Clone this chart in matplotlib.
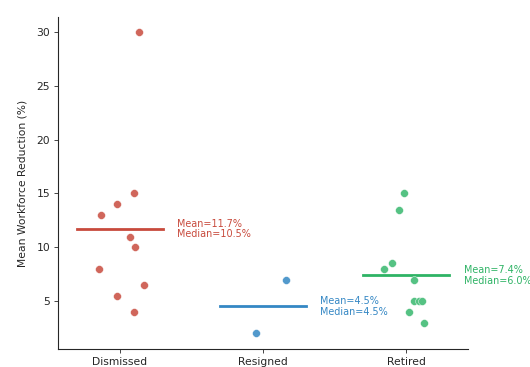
import matplotlib
matplotlib.use("Agg")
import matplotlib.pyplot as plt
import numpy as np

# Reduction (%) per departure type
categories = ["Dismissed", "Resigned", "Retired"]
dismissed = [30, 15, 14, 13, 11, 10, 8, 6.5, 5.5, 4]
resigned = [7, 2]
retired = [15, 13.5, 8.5, 8, 7, 5, 5, 5, 4, 3]

# horizontal jitter for the strip points
dismissed_jitter = [0.13, 0.10, -0.02, -0.13, 0.07, 0.105, -0.145, 0.17, -0.02, 0.10]
resigned_jitter = [0.16, -0.05]
retired_jitter = [-0.02, -0.05, -0.10, -0.16, 0.05, 0.05, 0.09, 0.11, 0.02, 0.12]

yticks = [5, 10, 15, 20, 25, 30]

line_colors = ["#c84a3c", "#3487c4", "#2eb365"]
point_colors = ["#d0665b", "#5299cc", "#55c283"]

groups = [dismissed, resigned, retired]
jitters = [dismissed_jitter, resigned_jitter, retired_jitter]

fig = plt.figure(figsize=(5.30, 3.67), dpi=100)
ax = fig.add_axes([58 / 530, 1 - 349 / 367, 410 / 530, 332 / 367])

fs = 7.75
for i, (vals, jit) in enumerate(zip(groups, jitters)):
    vals = np.asarray(vals, dtype=float)
    x = i + np.asarray(jit)
    ax.scatter(x, vals, s=32, color=point_colors[i], edgecolor="white",
               linewidth=0.3, zorder=3)
    mean = vals.mean()
    median = np.median(vals)
    ax.plot([i - 0.3, i + 0.3], [mean, mean], color=line_colors[i], lw=2, zorder=2)
    ax.text(i + 0.4, mean, f"Mean={mean:.1f}%\nMedian={median:.1f}%",
            color=line_colors[i], fontsize=6.9, va="center", ha="left",
            linespacing=1.1)

ax.set_xticks(range(len(categories)))
ax.set_xticklabels(categories)
ax.set_yticks(yticks)
ax.set_xlim(-0.433, 2.43)
ax.set_ylim(0.55, 31.4)
ax.set_ylabel("Mean Workforce Reduction (%)", fontsize=fs, color="#262626",
              labelpad=6)
ax.tick_params(labelsize=fs, colors="#262626", length=2.7, width=0.6, pad=3)
for side in ["top", "right"]:
    ax.spines[side].set_visible(False)
for side in ["left", "bottom"]:
    ax.spines[side].set_linewidth(0.8)
    ax.spines[side].set_color("#262626")

fig.savefig("out.png", dpi=100)
